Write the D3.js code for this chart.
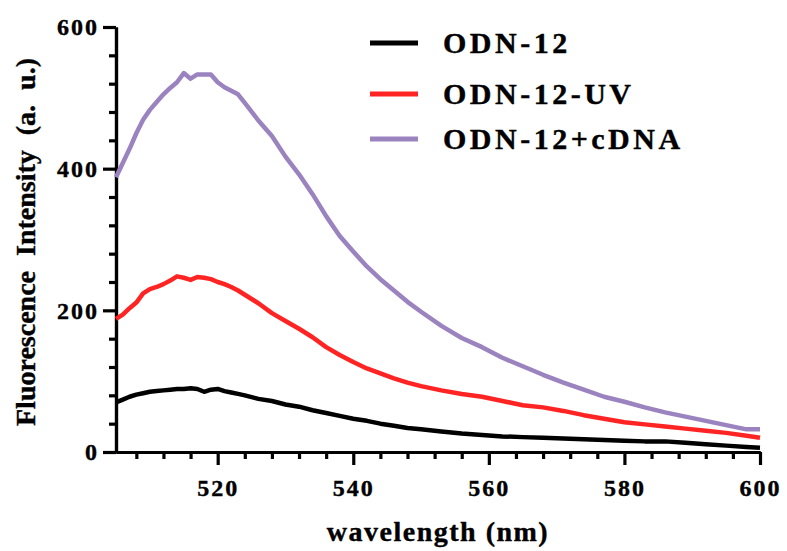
<!DOCTYPE html>
<html>
<head>
<meta charset="utf-8">
<script src="https://cdn.jsdelivr.net/npm/d3@7"></script>
<style>
body { margin:0; background:#fff; }
text { font-family:"Liberation Serif","Times New Roman",serif; font-weight:bold; fill:#000; stroke:#000; stroke-width:0.4px; }
</style>
</head>
<body>
<div id="chart"></div>
<script>
var wavelength = [505,506,507,508,509,510,511,512,513,514,515,516,517,518,519,520,521,522,523,524,
    526,528,530,532,534,536,538,540,542,544,546,548,550,553,556,559,562,565,568,571,
    574,577,580,583,586,589,592,595,598,600];

var odn12 = [70,74,78,81,83,85,86,87,88,89,89,90,89,85,88,89,86,84,82,80,
    75,72,67,64,59,55,51,47,44,40,37,34,32,29,26,24,22,21,20,19,
    18,17,16,15,15,13,11,9,7,6];

var odn12uv = [188,194,203,211,224,230,233,237,242,248,246,243,247,246,244,240,237,233,228,222,
    210,196,185,174,162,148,137,127,118,111,104,98,93,87,82,78,72,66,63,58,
    52,47,42,39,36,33,30,27,23,20];

var odn12cdna = [388,408,428,450,469,483,494,505,514,522,535,527,533,533,533,522,515,510,505,493,
    468,446,417,392,364,333,305,283,262,244,228,212,198,178,161,148,133,121,109,98,
    88,78,71,63,56,50,44,38,32,32];

var seriesNames = ["ODN-12","ODN-12-UV","ODN-12+cDNA"];
var seriesColors = ["#000000","#ff2424","#9b83bf"];
var seriesValues = [odn12, odn12uv, odn12cdna];

var xTicks = [520,540,560,580,600];
var yTicks = [0,200,400,600];

var width = 787, height = 551;

var svg = d3.select("#chart")
    .append("svg")
    .attr("width",width)
    .attr("height",height);

var x = d3.scaleLinear().domain([505,600]).range([116,760]);
var y = d3.scaleLinear().domain([0,600]).range([452,27]);

// minor ticks first, then the major axis on top
var xMinor = d3.range(508,600,4).filter(function(d){ return xTicks.indexOf(d) < 0; });
var yMinor = d3.range(40,600,40).filter(function(d){ return yTicks.indexOf(d) < 0; });

svg.append("g")
    .attr("class","axis x-minor")
    .attr("transform","translate(0,452)")
    .call(d3.axisBottom(x).tickValues(xMinor).tickSize(7).tickSizeOuter(0).tickFormat(""));

svg.append("g")
    .attr("class","axis y-minor")
    .attr("transform","translate(116,0)")
    .call(d3.axisLeft(y).tickValues(yMinor).tickSize(7).tickSizeOuter(0).tickFormat(""));

var gx = svg.append("g")
    .attr("class","axis x-major")
    .attr("transform","translate(0,452)")
    .call(d3.axisBottom(x).tickValues(xTicks).tickSize(13).tickSizeOuter(0).tickPadding(14));

var gy = svg.append("g")
    .attr("class","axis y-major")
    .attr("transform","translate(116,0)")
    .call(d3.axisLeft(y).tickValues(yTicks).tickSize(13).tickSizeOuter(0).tickPadding(4));

svg.selectAll(".axis path, .axis line")
    .attr("stroke","#000")
    .attr("stroke-width",3.2);

svg.selectAll(".axis text")
    .attr("fill","#000")
    .style("font-family","'Liberation Serif','Times New Roman',serif")
    .style("font-weight","bold")
    .style("font-size","24px")
    .style("letter-spacing","2px");

// axis titles
svg.append("text")
    .attr("x",438)
    .attr("y",541)
    .attr("text-anchor","middle")
    .style("font-size","28px")
    .style("letter-spacing","1.5px")
    .text("wavelength (nm)");

svg.append("text")
    .attr("transform","translate(35,242) rotate(-90)")
    .attr("text-anchor","middle")
    .style("font-size","28px")
    .style("word-spacing","8px")
    .text("Fluorescence Intensity (a. u.)");

// curves
var line = d3.line()
    .x(function(d,i){ return x(wavelength[i]); })
    .y(function(d){ return y(d); });

seriesValues.forEach(function(vals,k){
    svg.append("path")
        .attr("d",line(vals))
        .attr("fill","none")
        .attr("stroke",seriesColors[k])
        .attr("stroke-width",4.5)
        .attr("stroke-linejoin","round");
});

// legend
var legendY = [43,94,139];
var legend = svg.selectAll(".legend")
    .data(seriesNames)
    .enter()
    .append("g")
    .attr("class","legend")
    .attr("transform",function(d,i){ return "translate(370," + legendY[i] + ")"; });

legend.append("line")
    .attr("x1",0).attr("x2",48)
    .attr("y1",0).attr("y2",0)
    .attr("stroke",function(d,i){ return seriesColors[i]; })
    .attr("stroke-width",5);

legend.append("text")
    .attr("x",73)
    .attr("y",10)
    .style("font-size","30px")
    .style("letter-spacing","3.5px")
    .text(function(d){ return d; });
</script>
</body>
</html>
